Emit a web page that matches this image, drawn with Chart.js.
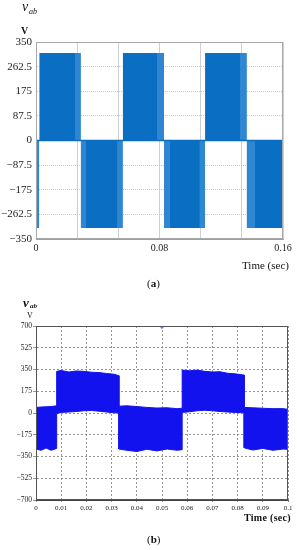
<!DOCTYPE html>
<html>
<head>
<meta charset="utf-8">
<script src="https://cdn.jsdelivr.net/npm/chart.js@4.4.0/dist/chart.umd.min.js"></script>
<style>
  body { margin: 0; background: #fff; width: 297px; height: 550px; position: relative; overflow: hidden; font-family: "Liberation Serif", serif; }
  canvas { position: absolute; left: 0; }
  .t { position: absolute; white-space: nowrap; line-height: 1; color: #111; }
</style>
</head>
<body>
<canvas id="chartA" width="297" height="262" style="top:0"></canvas>
<canvas id="chartB" width="297" height="225" style="top:290px"></canvas>

<div class="t" style="left:22px; top:0px; font-size:14px; font-style:italic;">v</div>
<div class="t" style="left:29px; top:8px; font-size:8px; font-style:italic;">ab</div>
<div class="t" style="left:21px; top:26px; font-size:10px; font-weight:bold;">V</div>
<div class="t" style="left:242px; top:260px; font-size:11px;">Time (sec)</div>
<div class="t" style="left:147px; top:278px; font-size:11px;">(<b>a</b>)</div>

<div class="t" style="left:23px; top:296px; font-size:13px; font-style:italic; font-weight:bold;">v</div>
<div class="t" style="left:30px; top:303px; font-size:7px; font-style:italic; font-weight:bold;">ab</div>
<div class="t" style="left:27px; top:312px; font-size:8px;">V</div>
<div class="t" style="left:244px; top:513px; font-size:10px; font-weight:bold; letter-spacing:0.3px;">Time (sec)</div>
<div class="t" style="left:147px; top:534px; font-size:11px;">(<b>b</b>)</div>

<script>
// ---- (a) ideal square wave ----
const aBlockStart = [0, 0.0021, 0.029, 0.0562, 0.0829, 0.1095, 0.1365];
const aBlockEnd   = [0.0021, 0.029, 0.0562, 0.0829, 0.1095, 0.1365, 0.16];
const aBlockVolt  = [-311, 311, -311, 311, -311, 311, -311];
// lighter edge strips of the blocks
const aEdgeStart = [0, 0.0253, 0.029, 0.0525, 0.0784, 0.0829, 0.1058, 0.1321, 0.1365];
const aEdgeEnd   = [0.0021, 0.029, 0.0324, 0.0562, 0.0829, 0.0868, 0.1095, 0.1365, 0.1419];
const aEdgeVolt  = [-311, 311, -311, -311, 311, -311, -311, 311, -311];
const aYTicks  = [-350, -262.5, -175, -87.5, 0, 87.5, 175, 262.5, 350];
const aXTicks  = [0, 0.02667, 0.05333, 0.08, 0.10667, 0.13333, 0.16];
const aXLabels = ['0', '', '', '0.08', '', '', '0.16'];

// ---- (b) measured waveform, band envelopes ----
const bTime  = [0, 0.002, 0.004, 0.006, 0.0082, 0.0082, 0.010, 0.013, 0.016, 0.019, 0.022, 0.025, 0.028, 0.031, 0.0329,
                0.0329, 0.036, 0.040, 0.044, 0.048, 0.052, 0.056, 0.058, 0.058, 0.061, 0.064, 0.067, 0.070, 0.073, 0.076, 0.079, 0.0826,
                0.0826, 0.086, 0.090, 0.094, 0.098, 0.1];
const bUpper = [45, 48, 50, 52, 58, 335, 342, 330, 338, 335, 328, 325, 318, 312, 300,
                55, 58, 52, 45, 40, 42, 35, 38, 345, 340, 345, 335, 330, 332, 320, 315, 305,
                45, 42, 38, 35, 35, 30];
const bLower = [-290, -300, -282, -300, -285, -5, 5, 8, 12, 18, 20, 15, 8, 2, 0,
                -290, -300, -310, -292, -305, -290, -300, -295, 5, 10, 18, 22, 18, 12, 8, 5, 2,
                -280, -298, -285, -300, -290, -292];
const bSpikeTime = [0.05];
const bSpikeVolt = [690];
const bYTicks  = [-700, -525, -350, -175, 0, 175, 350, 525, 700];
const bXTicks  = [0, 0.01, 0.02, 0.03, 0.04, 0.05, 0.06, 0.07, 0.08, 0.09, 0.1];
const bXLabels = ['0', '0.01', '0.02', '0.03', '0.04', '0.05', '0.06', '0.07', '0.08', '0.09', '0.1'];

const minus = v => v < 0 ? '\u2212' + Math.abs(v) : String(v);

// blocks -> points with gaps between them
function blockPoints(starts, ends, volts) {
  const pts = [];
  starts.forEach((s, i) => {
    pts.push({ x: s, y: volts[i] }, { x: ends[i], y: volts[i] }, { x: ends[i], y: null });
  });
  return pts;
}

// solid box round the plot area
const frame = color => ({
  id: 'frame',
  afterDraw: c => {
    const a = c.chartArea, ctx = c.ctx;
    ctx.save();
    ctx.strokeStyle = color;
    ctx.lineWidth = 1;
    ctx.strokeRect(Math.round(a.left) + 0.5, Math.round(a.top) + 0.5,
                   Math.round(a.right - a.left) - 1, Math.round(a.bottom - a.top) - 1);
    ctx.restore();
  }
});

new Chart(document.getElementById('chartA'), {
  type: 'scatter',
  data: {
    datasets: [
      {
        data: [{ x: 0, y: 0 }, { x: 0.16, y: 0 }],
        showLine: true, borderColor: '#0a6fc2', borderWidth: 1.5, pointRadius: 0
      },
      {
        data: blockPoints(aEdgeStart, aEdgeEnd, aEdgeVolt),
        showLine: true, spanGaps: false, fill: 'origin',
        backgroundColor: '#2e87d0', borderWidth: 0, pointRadius: 0
      },
      {
        data: blockPoints(aBlockStart, aBlockEnd, aBlockVolt),
        showLine: true, spanGaps: false, fill: 'origin',
        backgroundColor: '#0a6fc2', borderWidth: 0, pointRadius: 0
      }
    ]
  },
  options: {
    responsive: false,
    animation: false,
    layout: { padding: { top: 42, right: 14, left: 0, bottom: 0 } },
    plugins: { legend: { display: false }, tooltip: { enabled: false } },
    scales: {
      x: {
        type: 'linear', min: 0, max: 0.16,
        afterBuildTicks: s => { s.ticks = aXTicks.map(v => ({ value: v })); },
        afterFit: s => { s.height = 23; },
        ticks: {
          callback: (v, i) => aXLabels[i],
          autoSkip: false, maxRotation: 0, padding: 3,
          color: '#222', font: { family: 'Liberation Serif', size: 10 }
        },
        grid: { color: '#cfcfcf', drawTicks: false },
        border: { color: '#a0a0a0' }
      },
      y: {
        min: -350, max: 350,
        afterBuildTicks: s => { s.ticks = aYTicks.map(v => ({ value: v })); },
        afterFit: s => { s.width = 36; },
        ticks: {
          callback: v => minus(v), padding: 4,
          color: '#222', font: { family: 'Liberation Serif', size: 11 }
        },
        grid: { color: '#c8c8c8', drawTicks: false },
        border: { color: '#a0a0a0', dash: [1, 1] }
      }
    }
  },
  plugins: [frame('#a8a8a8')]
});

new Chart(document.getElementById('chartB'), {
  type: 'scatter',
  data: {
    datasets: [
      {
        data: bSpikeTime.map((t, i) => ({ x: t, y: bSpikeVolt[i] })),
        pointRadius: 1.5, backgroundColor: '#5a8fd0', borderWidth: 0
      },
      {
        data: bTime.map((t, i) => ({ x: t, y: bUpper[i] })),
        showLine: true, fill: '+1',
        borderColor: '#1212ee', borderWidth: 1, backgroundColor: '#1212ee', pointRadius: 0
      },
      {
        data: bTime.map((t, i) => ({ x: t, y: bLower[i] })),
        showLine: true, fill: false,
        borderColor: '#1212ee', borderWidth: 1, pointRadius: 0
      }
    ]
  },
  options: {
    responsive: false,
    animation: false,
    layout: { padding: { top: 36, right: 9, left: 0, bottom: 0 } },
    plugins: { legend: { display: false }, tooltip: { enabled: false } },
    scales: {
      x: {
        type: 'linear', min: 0, max: 0.1,
        afterBuildTicks: s => { s.ticks = bXTicks.map(v => ({ value: v })); },
        afterFit: s => { s.height = 15; },
        ticks: {
          callback: (v, i) => bXLabels[i],
          autoSkip: false, maxRotation: 0, padding: 2,
          color: '#222', font: { family: 'Liberation Serif', size: 7 }
        },
        grid: { color: '#7a7a7a', lineWidth: 0.8, drawTicks: true, tickLength: 2 },
        border: { color: '#444', dash: [2, 2] }
      },
      y: {
        min: -700, max: 700,
        afterBuildTicks: s => { s.ticks = bYTicks.map(v => ({ value: v })); },
        afterFit: s => { s.width = 36; },
        ticks: {
          callback: v => minus(v), padding: 1,
          color: '#222', font: { family: 'Liberation Serif', size: 7.5 }
        },
        grid: { color: '#7a7a7a', lineWidth: 0.8, drawTicks: true, tickLength: 3 },
        border: { color: '#444', dash: [2, 2] }
      }
    }
  },
  plugins: [frame('#555')]
});
</script>
</body>
</html>
